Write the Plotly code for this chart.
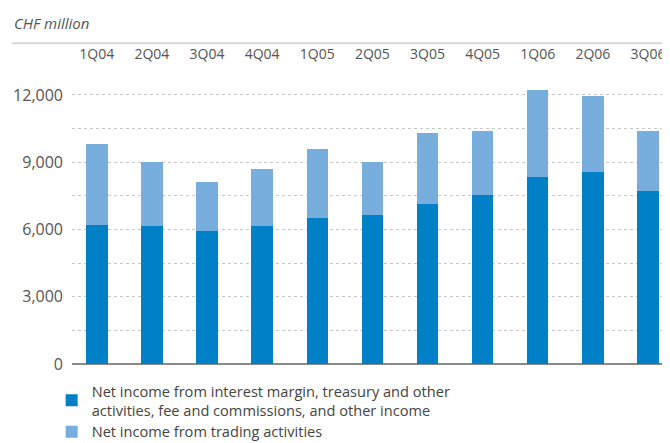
import plotly.graph_objects as go

quarters = ["1Q04", "2Q04", "3Q04", "4Q04", "1Q05", "2Q05", "3Q05", "4Q05", "1Q06", "2Q06", "3Q06"]
interest_fee_other = [6200, 6150, 5950, 6150, 6500, 6650, 7150, 7550, 8350, 8550, 7700]
totals = [9800, 9000, 8100, 8700, 9600, 9000, 10300, 10400, 12200, 11950, 10400]
trading = [t - b for t, b in zip(totals, interest_fee_other)]

name_interest = "Net income from interest margin, treasury and other<br>activities, fee and commissions, and other income"
name_trading = "Net income from trading activities"

y_grid_vals = [0, 1500, 3000, 4500, 6000, 7500, 9000, 10500, 12000]
y_grid_text = ["0", "", "3,000", "", "6,000", "", "9,000", "", "12,000"]

FONT = "Open Sans, sans-serif"
DARK = "#0080c6"
LIGHT = "#77aedd"

fig = go.Figure()
fig.add_trace(go.Bar(x=quarters, y=interest_fee_other, name=name_interest,
                     marker=dict(color=DARK, line=dict(width=0)), width=0.39))
fig.add_trace(go.Bar(x=quarters, y=trading, name=name_trading,
                     marker=dict(color=LIGHT, line=dict(width=0)), width=0.39))

fig.update_layout(
    barmode="stack",
    width=662, height=435,
    margin=dict(l=64, r=0, t=55, b=79, autoexpand=False),
    paper_bgcolor="white", plot_bgcolor="white",
    font=dict(family=FONT, color="#555555", size=14),
    showlegend=True,
    legend=dict(orientation="v", x=-0.034, xanchor="left", y=-0.036, yanchor="top",
                font=dict(size=14.6, color="#444444"), traceorder="normal",
                itemclick=False, bgcolor="rgba(0,0,0,0)", tracegroupgap=0),
    xaxis=dict(side="top", type="category", range=[-0.45, 10.4], showgrid=False,
               showline=False, ticks="", automargin=False,
               tickfont=dict(size=14, color="#555555")),
    yaxis=dict(range=[0, 13425], tickmode="array", tickvals=y_grid_vals, ticktext=y_grid_text,
               showgrid=True, gridcolor="#c8c8c8", griddash="dot", gridwidth=1,
               zeroline=True, zerolinecolor="#8a8a8a", zerolinewidth=2, automargin=False,
               ticklabelstandoff=8, tickfont=dict(size=16, color="#555555")),
    annotations=[dict(text="<i>CHF million</i>", xref="paper", yref="paper",
                      x=-0.1, y=1.133, xanchor="left", yanchor="middle", showarrow=False,
                      font=dict(size=15, color="#555555", family=FONT))],
    shapes=[dict(type="line", xref="paper", yref="paper", x0=-0.1, x1=1.0, y0=1.066, y1=1.066,
                 line=dict(color="#d6d6d6", width=2))],
)

fig.write_html("out.html")
